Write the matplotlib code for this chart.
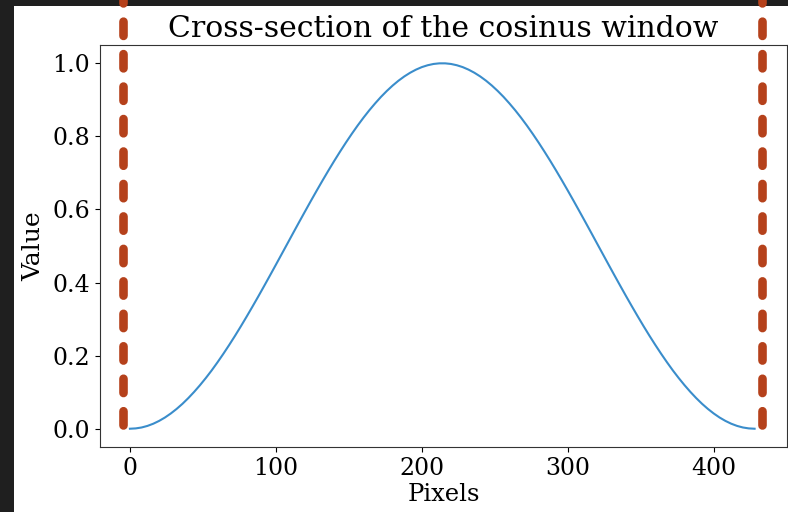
# cross-section of the cosinus window, with the window edges marked
import matplotlib.pyplot as plt
from matplotlib.patches import Rectangle

# values (pixel position -> window value), every 4 px
pixels = list(range(0, 432, 4))
values = [0.0, 0.0009, 0.0034, 0.0077, 0.0137, 0.0214, 0.0307, 0.0417,
          0.0542, 0.0682, 0.0838, 0.1008, 0.1191, 0.1387, 0.1595, 0.1817,
          0.2049, 0.2291, 0.2542, 0.2802, 0.3070, 0.3344, 0.3623, 0.3908,
          0.4196, 0.4487, 0.4780, 0.5073, 0.5367, 0.5659, 0.5948, 0.6235,
          0.6517, 0.6794, 0.7065, 0.7329, 0.7584, 0.7831, 0.8068, 0.8295,
          0.8510, 0.8713, 0.8902, 0.9080, 0.9242, 0.9390, 0.9523, 0.9640,
          0.9741, 0.9826, 0.9895, 0.9946, 0.9981, 0.9998, 0.9998, 0.9981,
          0.9946, 0.9895, 0.9826, 0.9741, 0.9640, 0.9523, 0.9390, 0.9242,
          0.9080, 0.8902, 0.8713, 0.8510, 0.8295, 0.8068, 0.7831, 0.7584,
          0.7329, 0.7065, 0.6794, 0.6517, 0.6235, 0.5948, 0.5659, 0.5367,
          0.5073, 0.4780, 0.4487, 0.4196, 0.3908, 0.3623, 0.3344, 0.3070,
          0.2802, 0.2542, 0.2291, 0.2049, 0.1817, 0.1595, 0.1387, 0.1191,
          0.1008, 0.0838, 0.0682, 0.0542, 0.0417, 0.0307, 0.0214, 0.0137,
          0.0077, 0.0034, 0.0009, 0.0]
edges = [-5, 433]

plt.rcParams['font.family'] = 'DejaVu Serif'

fig = plt.figure(figsize=(7.88, 5.12), dpi=100, facecolor='#1f1f1f')
# white output area of the notebook cell
fig.patches.append(Rectangle((14 / 788, 0), 774 / 788, 506 / 512,
                             transform=fig.transFigure, facecolor='white',
                             edgecolor='none', zorder=-10))
ax = fig.add_axes([100 / 788, 65 / 512, 687 / 788, 402 / 512])

ax.plot(pixels, values, color='#3a8dcb', lw=1.5)
ax.set_xlim(-20.5, 450.2)
ax.set_ylim(-0.05, 1.05)
ax.vlines(edges, 0.01, 1.25, colors='#b5411b', lw=6.2, linestyles=(0, (1.66, 2.11)),
          capstyle='round', clip_on=False, zorder=5)

ax.set_title('Cross-section of the cosinus window', fontsize=21.5)
ax.set_xlabel('Pixels', fontsize=17.5, labelpad=2.5)
ax.set_ylabel('Value', fontsize=18, labelpad=5)
ax.tick_params(labelsize=17)
for s in ax.spines.values():
    s.set_color('#333333')

fig.savefig('out.png', dpi=100, facecolor=fig.get_facecolor())
